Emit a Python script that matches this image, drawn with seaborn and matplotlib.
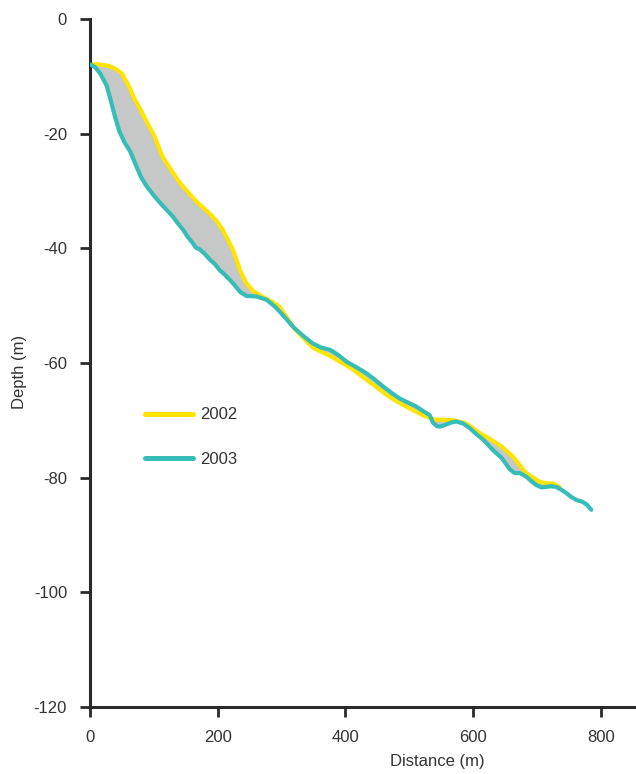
import numpy as np
import pandas as pd
import matplotlib
matplotlib.use("Agg")
import matplotlib.pyplot as plt
import seaborn as sns

# profile 2002 (yellow)
dist_2002 = [0, 15, 30, 40, 50, 60, 70, 80, 90, 100,
             114, 128, 141, 155, 167, 178, 188, 198, 208, 216,
             224, 230, 235, 240, 245, 255, 271, 285, 297, 320,
             350, 380, 410, 440, 470, 500, 525, 540, 555, 570,
             590, 610, 630, 645, 662, 683, 704, 715, 725, 735]
depth_2002 = [-7.9, -7.9, -8.2, -8.7, -9.5, -11.5, -14.0, -16.0, -18.2, -20.2,
              -24.1, -26.5, -28.6, -30.4, -31.9, -33.0, -34.0, -35.2, -36.8, -38.5,
              -40.3, -42.2, -43.8, -45.0, -46.1, -47.4, -48.5, -49.3, -50.2, -54.0,
              -57.4, -59.0, -61.0, -63.5, -66.0, -67.9, -69.3, -69.9, -69.9, -70.0,
              -70.6, -72.2, -73.5, -74.6, -76.3, -79.2, -80.7, -81.0, -81.0, -81.6]

# profile 2003 (teal)
dist_2003 = [0, 8, 16, 26, 33, 39, 46, 54, 63, 73, 80,
             89, 100, 110, 120, 130, 138, 146, 153, 161, 166,
             172, 180, 188, 196, 203, 211, 219, 227, 235, 245,
             261, 277, 290, 305, 318, 333, 349, 362, 376, 390,
             402, 418, 433, 446, 459, 472, 485, 498, 511, 522,
             532, 537, 543, 548, 556, 565, 574, 585, 595, 605,
             616, 631, 645, 657, 665, 673, 683, 691, 699, 707,
             715, 722, 730, 738, 746, 754, 762, 771, 778, 785]
depth_2003 = [-7.9, -8.4, -9.5, -11.6, -14.4, -17.0, -19.6, -21.5, -23.1, -25.8, -27.6,
              -29.2, -30.8, -32.1, -33.3, -34.5, -35.7, -36.8, -38.0, -39.1, -39.9,
              -40.2, -41.0, -42.0, -42.8, -43.8, -44.6, -45.5, -46.5, -47.6, -48.3,
              -48.4, -49.0, -50.2, -52.0, -53.7, -55.2, -56.6, -57.3, -57.7, -58.7,
              -59.8, -60.8, -61.8, -62.9, -64.1, -65.2, -66.2, -66.9, -67.6, -68.4,
              -69.1, -70.4, -71.0, -71.1, -70.8, -70.4, -70.2, -70.6, -71.4, -72.4,
              -73.4, -75.2, -76.6, -78.5, -79.2, -79.2, -79.8, -80.6, -81.3, -81.7,
              -81.6, -81.5, -81.6, -82.1, -82.7, -83.4, -83.9, -84.2, -84.7, -85.6]

x_ticks = [0, 200, 400, 600, 800]
y_ticks = [0, -20, -40, -60, -80, -100, -120]

YELLOW = "#FFE400"
TEAL = "#36BDB8"
GREY = "#C6C7C7"
INK = "#333333"

sns.set_style("ticks")
plt.rcParams["font.family"] = ["Liberation Sans", "DejaVu Sans"]
plt.rcParams["axes.unicode_minus"] = False

df02 = pd.DataFrame({"Distance": dist_2002, "Depth": depth_2002})
df03 = pd.DataFrame({"Distance": dist_2003, "Depth": depth_2003})

fig = plt.figure(figsize=(6.36, 7.74), dpi=100)
ax = fig.add_axes([90 / 636, 67 / 774, 546 / 636, 688 / 774])

# grey area between the two surveys (polygon from both profiles)
ax.fill(np.concatenate([df02["Distance"], df03["Distance"][::-1]]),
        np.concatenate([df02["Depth"], df03["Depth"][::-1]]),
        color=GREY, lw=0, zorder=1)

sns.lineplot(data=df02, x="Distance", y="Depth", ax=ax, color=YELLOW,
             lw=3, label="2002", estimator=None, sort=False, zorder=2)
sns.lineplot(data=df03, x="Distance", y="Depth", ax=ax, color=TEAL,
             lw=3, label="2003", estimator=None, sort=False, zorder=3)

ax.set_xlim(0, 855)
ax.set_ylim(-120, 0)
ax.set_xticks(x_ticks)
ax.set_yticks(y_ticks)
ax.set_xlabel("Distance (m)", fontsize=12, color=INK)
ax.set_ylabel("Depth (m)", fontsize=12, color=INK)
ax.xaxis.set_label_coords(0.637, -0.068)
ax.yaxis.set_label_coords(-0.115, 0.487)

for side in ["top", "right"]:
    ax.spines[side].set_visible(False)
for side in ["left", "bottom"]:
    ax.spines[side].set_linewidth(2.2)
    ax.spines[side].set_color("#2a2a2a")
ax.tick_params(axis="both", direction="out", length=7, width=2,
               color="#2a2a2a", labelsize=12, labelcolor=INK, pad=9.5)

leg = ax.legend(loc="upper left", bbox_to_anchor=(0.1, 0.4355), frameon=False,
                fontsize=12, handlelength=2.93, handletextpad=0.42,
                labelspacing=1.79, borderpad=0, borderaxespad=0)
for line in leg.get_lines():
    line.set_linewidth(3.6)
for txt in leg.get_texts():
    txt.set_color(INK)

fig.savefig("out.png", dpi=100)
